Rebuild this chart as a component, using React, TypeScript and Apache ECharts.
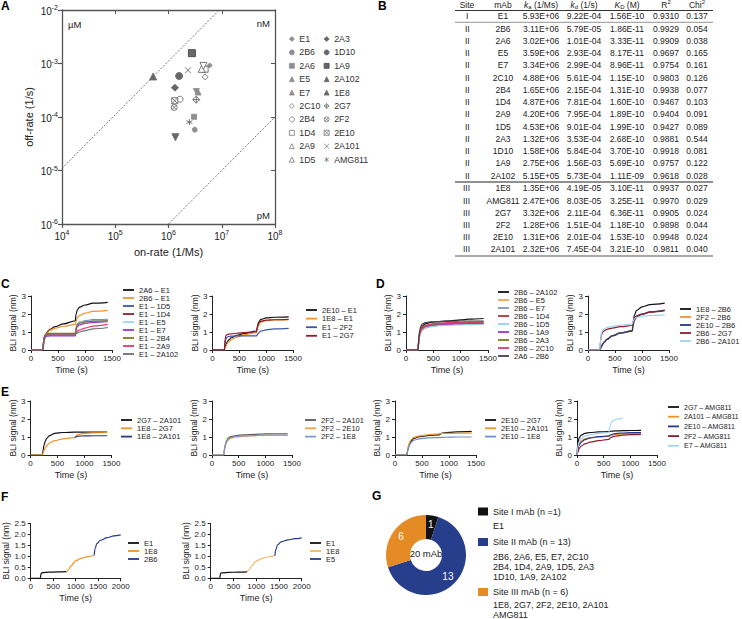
import React, { useEffect, useRef } from "react";
import * as echarts from "echarts";

// ---------------- Panel A / B data ----------------
const sites = ["I", "II", "II", "II", "II", "II", "II", "II", "II", "II", "II", "II", "II", "II", "III", "III", "III", "III", "III", "III"];
const mAbs = ["E1", "2B6", "2A6", "E5", "E7", "2C10", "2B4", "1D4", "2A9", "1D5", "2A3", "1D10", "1A9", "2A102", "1E8", "AMG811", "2G7", "2F2", "2E10", "2A101"];
const kaValues = [5.93e6, 3.11e6, 3.02e6, 3.59e6, 3.34e6, 4.88e6, 1.65e6, 4.87e6, 4.2e6, 4.53e6, 1.32e6, 1.58e6, 2.75e6, 5.15e5, 1.35e6, 2.47e6, 3.32e6, 1.28e6, 1.31e6, 2.32e6];
const kdValues = [9.22e-4, 5.79e-5, 1.01e-4, 2.93e-4, 2.99e-4, 5.61e-4, 2.15e-4, 7.81e-4, 7.95e-4, 9.01e-4, 3.53e-4, 5.84e-4, 1.56e-3, 5.73e-4, 4.19e-5, 8.03e-5, 2.11e-4, 1.51e-4, 2.01e-4, 7.45e-4];
const KDValues = [1.56e-10, 1.86e-11, 3.33e-11, 8.17e-11, 8.96e-11, 1.15e-10, 1.31e-10, 1.6e-10, 1.89e-10, 1.99e-10, 2.68e-10, 3.7e-10, 5.69e-10, 1.11e-9, 3.1e-11, 3.25e-11, 6.36e-11, 1.18e-10, 1.53e-10, 3.21e-10];
const r2Values = [0.931, 0.9929, 0.9909, 0.9697, 0.9754, 0.9803, 0.9938, 0.9467, 0.9404, 0.9427, 0.9881, 0.9918, 0.9757, 0.9618, 0.9937, 0.997, 0.9905, 0.9898, 0.9948, 0.9811];
const chi2Values = [0.137, 0.054, 0.038, 0.165, 0.161, 0.126, 0.077, 0.103, 0.091, 0.089, 0.544, 0.081, 0.122, 0.028, 0.027, 0.029, 0.024, 0.044, 0.024, 0.04];

const legendColA = ["E1", "2B6", "2A6", "E5", "E7", "2C10", "2B4", "1D4", "2A9", "1D5"];
const legendColB = ["2A3", "1D10", "1A9", "2A102", "1E8", "2G7", "2F2", "2E10", "2A101", "AMG811"];
const isoNanomolar = [[1e4, 1.1e-5], [9e6, 1e-2]];
const isoPicomolar = [[1e6, 1e-6], [1e8, 1e-4]];

// ---------------- BLI time axes ----------------
const T_BIND = [0, 220, 235, 250, 275, 300, 350, 450, 600, 820, 835, 860, 900, 1000, 1150, 1420];
const T_AMG = [0, 15, 40, 80, 150, 250, 400, 600, 615, 640, 680, 750, 850, 1000, 1200];
const T_SEQ = [0, 200, 215, 230, 260, 400, 600, 800, 810, 850, 900, 1000, 1150, 1300, 1400, 1410, 1430, 1470, 1550, 1700, 1850, 2000];

// C left
const cLeftNames = ["2A6 – E1", "2B6 – E1", "E1 – 1D5", "E1 – 1D4", "E1 – E5", "E1 – E7", "E1 – 2B4", "E1 – 2A9", "E1 – 2A102"];
const cLeftValues = [
  [0, 0, 0.35, 0.6, 0.85, 1.0, 1.15, 1.3, 1.45, 1.62, 2.0, 2.25, 2.38, 2.5, 2.6, 2.65],
  [0, 0, 0.3, 0.55, 0.8, 0.95, 1.1, 1.22, 1.32, 1.42, 1.6, 1.8, 1.92, 2.05, 2.15, 2.2],
  [0, 0, 0.5, 0.75, 0.85, 0.88, 0.9, 0.9, 0.9, 0.9, 1.25, 1.45, 1.55, 1.62, 1.67, 1.7],
  [0, 0, 0.5, 0.75, 0.85, 0.88, 0.9, 0.9, 0.9, 0.9, 1.2, 1.4, 1.5, 1.58, 1.62, 1.65],
  [0, 0, 0.45, 0.7, 0.8, 0.83, 0.84, 0.85, 0.85, 0.85, 1.2, 1.42, 1.52, 1.6, 1.64, 1.67],
  [0, 0, 0.45, 0.65, 0.75, 0.77, 0.78, 0.78, 0.78, 0.78, 1.1, 1.3, 1.4, 1.48, 1.53, 1.57],
  [0, 0, 0.55, 0.8, 0.9, 0.92, 0.93, 0.93, 0.93, 0.93, 1.2, 1.4, 1.5, 1.56, 1.6, 1.62],
  [0, 0, 0.5, 0.75, 0.85, 0.87, 0.88, 0.88, 0.88, 0.88, 0.98, 1.05, 1.12, 1.22, 1.33, 1.42],
  [0, 0, 0.45, 0.7, 0.8, 0.82, 0.83, 0.83, 0.83, 0.83, 0.9, 0.95, 1.0, 1.08, 1.17, 1.25],
];
// C right
const cRightNames = ["2E10 – E1", "1E8 – E1", "E1 – 2F2", "E1 – 2G7"];
const cRightValues = [
  [0, 0, 0.15, 0.3, 0.45, 0.55, 0.68, 0.82, 0.92, 1.05, 1.3, 1.55, 1.7, 1.78, 1.82, 1.84],
  [0, 0, 0.1, 0.2, 0.35, 0.45, 0.58, 0.72, 0.85, 0.97, 1.15, 1.38, 1.55, 1.63, 1.67, 1.68],
  [0, 0, 0.4, 0.62, 0.72, 0.75, 0.77, 0.78, 0.78, 0.78, 0.85, 0.95, 1.05, 1.12, 1.17, 1.2],
  [0, 0, 0.6, 0.8, 0.86, 0.88, 0.9, 0.93, 0.97, 1.02, 1.25, 1.5, 1.6, 1.66, 1.68, 1.7],
];
// D left
const dLeftNames = ["2B6 – 2A102", "2B6 – E5", "2B6 – E7", "2B6 – 1D4", "2B6 – 1D5", "2B6 – 1A9", "2B6 – 2A3", "2B6 – 2C10", "2A6 – 2B6"];
const dLeftValues = [
  [0, 0, 0.6, 0.95, 1.2, 1.33, 1.45, 1.53, 1.58, 1.62, 1.63, 1.64, 1.65, 1.67, 1.71, 1.75],
  [0, 0, 0.45, 0.75, 0.98, 1.1, 1.22, 1.3, 1.36, 1.4, 1.41, 1.42, 1.43, 1.45, 1.47, 1.48],
  [0, 0, 0.5, 0.8, 1.02, 1.14, 1.26, 1.33, 1.38, 1.42, 1.43, 1.43, 1.44, 1.45, 1.46, 1.47],
  [0, 0, 0.55, 0.88, 1.1, 1.22, 1.33, 1.4, 1.45, 1.48, 1.48, 1.49, 1.5, 1.5, 1.51, 1.52],
  [0, 0, 0.5, 0.8, 1.02, 1.13, 1.24, 1.31, 1.35, 1.38, 1.38, 1.39, 1.39, 1.4, 1.41, 1.42],
  [0, 0, 0.55, 0.88, 1.1, 1.2, 1.3, 1.37, 1.42, 1.45, 1.45, 1.46, 1.46, 1.47, 1.48, 1.49],
  [0, 0, 0.58, 0.9, 1.12, 1.23, 1.34, 1.41, 1.46, 1.49, 1.5, 1.5, 1.51, 1.52, 1.53, 1.54],
  [0, 0, 0.58, 0.92, 1.15, 1.26, 1.37, 1.44, 1.49, 1.52, 1.52, 1.53, 1.53, 1.54, 1.55, 1.56],
  [0, 0, 0.7, 1.1, 1.35, 1.45, 1.52, 1.56, 1.58, 1.6, 1.6, 1.6, 1.6, 1.61, 1.61, 1.61],
];
// D right
const dRightNames = ["1E8 – 2B6", "2F2 – 2B6", "2E10 – 2B6", "2B6 – 2G7", "2B6 – 2A101"];
const dRightValues = [
  [0, 0, 0.1, 0.2, 0.35, 0.45, 0.6, 0.8, 0.95, 1.08, 1.5, 1.95, 2.2, 2.4, 2.52, 2.6],
  [0, 0, 0.1, 0.2, 0.33, 0.43, 0.58, 0.78, 0.93, 1.05, 1.35, 1.65, 1.82, 1.97, 2.1, 2.2],
  [0, 0, 0.1, 0.2, 0.33, 0.43, 0.58, 0.78, 0.93, 1.05, 1.35, 1.66, 1.84, 1.99, 2.12, 2.22],
  [0, 0, 0.55, 0.85, 1.0, 1.07, 1.15, 1.22, 1.3, 1.36, 1.6, 1.8, 1.9, 2.0, 2.1, 2.18],
  [0, 0, 0.6, 0.95, 1.1, 1.17, 1.25, 1.32, 1.38, 1.45, 1.6, 1.75, 1.82, 1.88, 1.92, 1.95],
];
// E panels
const e1Names = ["2G7 – 2A101", "1E8 – 2G7", "1E8 – 2A101"];
const e1Values = [
  [0, 0, 0.3, 0.55, 0.78, 0.92, 1.08, 1.2, 1.25, 1.27, 1.27, 1.27, 1.27, 1.27, 1.27, 1.27],
  [0, 0, 0.12, 0.25, 0.4, 0.52, 0.66, 0.8, 0.9, 0.97, 1.03, 1.1, 1.15, 1.2, 1.23, 1.25],
  [null, null, null, null, null, null, null, null, null, 0.97, 1.0, 1.03, 1.05, 1.06, 1.07, 1.07],
];
const e2Names = ["2F2 – 2A101", "2F2 – 2E10", "2F2 – 1E8"];
const e2Values = [
  [0, 0, 0.35, 0.6, 0.8, 0.92, 1.02, 1.08, 1.12, 1.15, 1.15, 1.16, 1.16, 1.17, 1.18, 1.18],
  [0, 0, 0.25, 0.5, 0.7, 0.82, 0.93, 1.0, 1.04, 1.07, 1.08, 1.08, 1.09, 1.1, 1.1, 1.1],
  [0, 0, 0.3, 0.55, 0.75, 0.87, 0.97, 1.03, 1.06, 1.08, 1.09, 1.09, 1.1, 1.1, 1.1, 1.1],
];
const e3Names = ["2E10 – 2G7", "2E10 – 2A101", "2E10 – 1E8"];
const e3Values = [
  [0, 0, 0.25, 0.45, 0.65, 0.78, 0.92, 1.02, 1.08, 1.12, 1.15, 1.2, 1.23, 1.26, 1.29, 1.31],
  [0, 0, 0.3, 0.55, 0.75, 0.86, 0.98, 1.06, 1.12, 1.17, 1.19, 1.2, 1.2, 1.2, 1.21, 1.22],
  [0, 0, 0.2, 0.4, 0.58, 0.7, 0.82, 0.9, 0.95, 0.97, 0.97, 0.98, 0.98, 0.99, 1.0, 1.0],
];
const e4Names = ["2G7 – AMG811", "2A101 – AMG811", "2E10 – AMG811", "2F2 – AMG811", "E7 – AMG811"];
const e4Values = [
  [0, 0.6, 0.95, 1.1, 1.2, 1.25, 1.28, 1.3, 1.31, 1.32, 1.33, 1.34, 1.35, 1.36, 1.37],
  [0, 0.4, 0.65, 0.8, 0.9, 0.97, 1.0, 1.03, 1.06, 1.09, 1.12, 1.15, 1.17, 1.19, 1.2],
  [0, 0.3, 0.55, 0.72, 0.85, 0.95, 1.02, 1.06, 1.1, 1.14, 1.17, 1.2, 1.22, 1.24, 1.25],
  [0, 0.15, 0.35, 0.5, 0.62, 0.72, 0.8, 0.87, 0.93, 0.98, 1.02, 1.06, 1.1, 1.13, 1.15],
  [0, 0.45, 0.75, 0.92, 1.05, 1.13, 1.2, 1.25, 1.55, 1.8, 1.92, 2.0, 2.05, null, null],
];
// F panels
const f1Names = ["E1", "1E8", "2B6"];
const f1Values = [
  [0, 0, 0.02, 0.22, 0.26, 0.28, 0.29, 0.3, null, null, null, null, null, null, null, null, null, null, null, null, null, null],
  [null, null, null, null, null, null, null, 0.3, 0.31, 0.42, 0.58, 0.8, 0.93, 1.0, 1.03, 1.04, null, null, null, null, null, null],
  [null, null, null, null, null, null, null, null, null, null, null, null, null, null, null, 1.04, 1.35, 1.58, 1.73, 1.85, 1.93, 1.97],
];
const f2Names = ["E1", "1E8", "E5"];
const f2Values = [
  [0, 0, 0.22, 0.24, 0.25, 0.27, 0.28, 0.29, null, null, null, null, null, null, null, null, null, null, null, null, null, null],
  [null, null, null, null, null, null, null, 0.29, 0.3, 0.4, 0.56, 0.78, 0.92, 0.99, 1.02, 1.02, null, null, null, null, null, null],
  [null, null, null, null, null, null, null, null, null, null, null, null, null, null, null, 1.02, 1.3, 1.52, 1.66, 1.75, 1.8, 1.84],
];

// ---------------- Panel G data ----------------
const siteLabels = ["Site I mAb (n =1)", "Site II mAb (n = 13)", "Site III mAb (n = 6)"];
const siteCounts = [1, 13, 6];
const siteMemberLines = [["E1"], ["2B6, 2A6, E5, E7, 2C10", "2B4, 1D4, 2A9, 1D5, 2A3", "1D10, 1A9, 2A102"], ["1E8, 2G7, 2F2, 2E10, 2A101", "AMG811"]];
const donutCenterText = "20 mAb";

// ---------------- styles ----------------
const FONT = "'Liberation Sans', Arial, Helvetica, sans-serif";
const TXT = "#222";
const G1 = "#8e8e8e";
const G2 = "#686868";
const P_DIAMOND_BAR = "path://M5,0L10,5L5,10L0,5Z M0,5L10,5";
const P_DIAMOND_PLUS = "path://M5,0L10,5L5,10L0,5Z M5,0L5,10 M0,5L10,5";
const P_CIRCLE_X = "path://M10,5A5,5,0,1,1,0,5A5,5,0,1,1,10,5Z M1.5,1.5L8.5,8.5 M8.5,1.5L1.5,8.5";
const P_SQUARE_X = "path://M0,0L10,0L10,10L0,10Z M0,0L10,10 M10,0L0,10";
const P_X = "path://M0,0L10,10 M10,0L0,10";
const P_AST = "path://M5,0L5,10 M0.7,2.5L9.3,7.5 M9.3,2.5L0.7,7.5";

const SYM: Record<string, any> = {
  E1: { s: "diamond", z: 5, f: G1, b: G1 },
  "2B6": { s: "circle", z: 5, f: G1, b: G1 },
  "2A6": { s: "rect", z: 5, f: G1, b: G1 },
  E5: { s: "triangle", z: 6, f: G1, b: G1 },
  E7: { s: "triangle", z: 6, f: G1, b: G1, r: 180 },
  "2C10": { s: "diamond", z: 6, f: "#fff", b: G2 },
  "2B4": { s: "circle", z: 6, f: "#fff", b: G2 },
  "1D4": { s: "rect", z: 6, f: "#fff", b: G2 },
  "2A9": { s: "triangle", z: 7, f: "#fff", b: G2 },
  "1D5": { s: "triangle", z: 7, f: "#fff", b: G2, r: 180 },
  "2A3": { s: P_DIAMOND_BAR, z: 7, f: G2, b: G2 },
  "1D10": { s: "circle", z: 7, f: G2, b: G2 },
  "1A9": { s: "rect", z: 7, f: G2, b: "#444" },
  "2A102": { s: "triangle", z: 7, f: G2, b: G2 },
  "1E8": { s: "triangle", z: 7, f: G2, b: G2, r: 180 },
  "2G7": { s: P_DIAMOND_PLUS, z: 7, f: "#fff", b: G2 },
  "2F2": { s: P_CIRCLE_X, z: 6, f: "#fff", b: G2 },
  "2E10": { s: P_SQUARE_X, z: 6, f: "#fff", b: G2 },
  "2A101": { s: P_X, z: 6, f: "#fff", b: G2 },
  AMG811: { s: P_AST, z: 6, f: "#fff", b: G2 },
};

const BLACK = "#111";
const ORANGE = "#f0932b";
const BLUE = "#3b57a6";
const NAVY = "#24398a";
const DRED = "#8e1b2e";
const LBLUE = "#9fd3f3";
const PURPLE = "#9b35d6";
const OLIVE = "#7d7d1f";
const PINK = "#e2386c";
const GRAY = "#6e6e6e";

const panels = [
  { id: "cL", names: cLeftNames, values: cLeftValues, t: T_BIND, colors: [BLACK, ORANGE, BLUE, DRED, LBLUE, PURPLE, OLIVE, PINK, GRAY], grid: [31, 296, 81, 54], xMax: 1500, yMax: 3, yInt: 1, lg: [123, 286, 0, 7.5] },
  { id: "cR", names: cRightNames, values: cRightValues, t: T_BIND, colors: [BLACK, ORANGE, BLUE, DRED], grid: [212.5, 296, 80.5, 54], xMax: 1500, yMax: 3, yInt: 1, lg: [306, 306, 0.6, 7.5] },
  { id: "dL", names: dLeftNames, values: dLeftValues, t: T_BIND, colors: [BLACK, "#f4a24a", "#8294bf", "#b0303c", "#96cdf0", PURPLE, OLIVE, PINK, "#444"], grid: [406, 296, 82, 54], xMax: 1500, yMax: 3, yInt: 1, lg: [498, 288, 0, 7.5] },
  { id: "dR", names: dRightNames, values: dRightValues, t: T_BIND, colors: [BLACK, ORANGE, NAVY, DRED, LBLUE], grid: [588, 296, 81, 54], xMax: 1500, yMax: 3, yInt: 1, lg: [680, 305, 0, 7.5] },
  { id: "e1", names: e1Names, values: e1Values, t: T_BIND, colors: [BLACK, ORANGE, NAVY], grid: [30.5, 401, 81, 54], xMax: 1500, yMax: 3, yInt: 1, lg: [121, 416, 0.3, 7.5] },
  { id: "e2", names: e2Names, values: e2Values, t: T_BIND, colors: ["#5a5a5a", "#f4a24a", "#7f9ad2"], grid: [212, 401, 80, 54], xMax: 1500, yMax: 3, yInt: 1, lg: [305, 416, 0.3, 7.5] },
  { id: "e3", names: e3Names, values: e3Values, t: T_BIND, colors: [BLACK, ORANGE, "#6f8fd0"], grid: [395, 401, 81, 54], xMax: 1500, yMax: 3, yInt: 1, lg: [485, 416, 0.3, 7.5] },
  { id: "e4", names: e4Names, values: e4Values, t: T_AMG, colors: [BLACK, ORANGE, NAVY, DRED, LBLUE], grid: [577, 401, 80, 54], xMax: 1500, yMax: 3, yInt: 1, lg: [668, 403, 1.7, 7] },
  { id: "f1", names: f1Names, values: f1Values, t: T_SEQ, colors: [BLACK, ORANGE, NAVY], grid: [30.7, 523.3, 90, 55], xMax: 2000, yMax: 2.5, yInt: 0.5, lg: [128, 539, 0, 7.5] },
  { id: "f2", names: f2Names, values: f2Values, t: T_SEQ, colors: [BLACK, "#f5b565", NAVY], grid: [210.7, 523.3, 91, 55], xMax: 2000, yMax: 2.5, yInt: 0.5, lg: [310, 539, 0, 7.5] },
];

const fmtSci = (v: number) => {
  const [m, e] = v.toExponential(2).split("e");
  const sign = e[0] === "-" ? "-" : "+";
  const d = e.replace(/[+-]/, "").padStart(2, "0");
  return `${m}E${sign}${d}`;
};

function buildOption() {
  const grid: any[] = [{ left: 62, top: 10, width: 213, height: 214 }];
  const logLabelRich = {
    b: { fontSize: 10, lineHeight: 12, verticalAlign: "bottom", color: TXT, fontFamily: FONT },
    s: { fontSize: 7, lineHeight: 8, verticalAlign: "top", color: TXT, fontFamily: FONT },
  };
  const logFmt = (v: number) => `{b|10}{s|${Math.round(Math.log10(v))}}`;
  const aLine = { lineStyle: { color: "#555", width: 1.3 } };
  const xAxis: any[] = [
    {
      type: "log", logBase: 10, gridIndex: 0, min: 1e4, max: 1e8, position: "bottom",
      axisLine: aLine, axisTick: { length: 4, lineStyle: { color: "#555", width: 1.2 } },
      axisLabel: { formatter: logFmt, rich: logLabelRich, margin: 5 },
      splitLine: { show: false }, minorTick: { show: false },
      name: "on-rate (1/Ms)", nameLocation: "middle", nameGap: 22,
      nameTextStyle: { fontSize: 11, color: TXT, fontFamily: FONT },
    },
    {
      type: "log", logBase: 10, gridIndex: 0, min: 1e4, max: 1e8, position: "top",
      axisLine: aLine, axisTick: { inside: true, length: 4, lineStyle: { color: "#555", width: 1 } },
      axisLabel: { show: false }, splitLine: { show: false },
    },
  ];
  const yAxis: any[] = [
    {
      type: "log", logBase: 10, gridIndex: 0, min: 1e-6, max: 1e-2, position: "left",
      axisLine: aLine, axisTick: { length: 4, lineStyle: { color: "#555", width: 1.2 } },
      axisLabel: { formatter: logFmt, rich: logLabelRich, margin: 4 },
      splitLine: { show: false },
      name: "off-rate (1/s)", nameLocation: "middle", nameGap: 28,
      nameTextStyle: { fontSize: 11, color: TXT, fontFamily: FONT },
    },
    {
      type: "log", logBase: 10, gridIndex: 0, min: 1e-6, max: 1e-2, position: "right",
      axisLine: aLine, axisTick: { inside: true, length: 4, lineStyle: { color: "#555", width: 1 } },
      axisLabel: { show: false }, splitLine: { show: false },
    },
  ];
  const series: any[] = [];
  const legend: any[] = [];

  // iso-affinity lines
  [isoNanomolar, isoPicomolar].forEach((d, i) => {
    series.push({
      type: "line", name: i === 0 ? "KD 1 nM" : "KD 1 pM", xAxisIndex: 0, yAxisIndex: 0, data: d,
      symbol: "none", silent: true, lineStyle: { color: "#555", width: 0.8, type: [2, 1.5] }, z: 1,
    });
  });
  // scatter points from the table
  mAbs.forEach((m, i) => {
    const s = SYM[m];
    series.push({
      type: "scatter", name: m, xAxisIndex: 0, yAxisIndex: 0,
      data: [[kaValues[i], kdValues[i]]],
      symbol: s.s, symbolSize: s.z, symbolRotate: s.r || 0,
      itemStyle: { color: s.f, borderColor: s.b, borderWidth: 0.9, opacity: 1 }, z: 5,
    });
  });
  legend.push({
    orient: "vertical", left: 289, top: 34, height: 133, padding: 0,
    itemWidth: 5, itemHeight: 5, itemGap: 3.4,
    itemStyle: { borderWidth: 0.7 },
    textStyle: { fontSize: 8.8, lineHeight: 10, color: "#333", fontFamily: FONT },
    data: legendColA.concat(legendColB), selectedMode: false,
  });

  panels.forEach((p, pi) => {
    const [l, t, w, h] = p.grid;
    grid.push({ left: l, top: t, width: w, height: h });
    const ax = { lineStyle: { color: "#222", width: 1 } };
    xAxis.push({
      type: "value", gridIndex: pi + 1, min: 0, max: p.xMax, interval: 500,
      axisLine: { ...ax, onZero: false }, axisTick: { length: 3, lineStyle: { color: "#222", width: 1 } },
      axisLabel: { fontSize: 8, margin: 4, color: TXT, fontFamily: FONT, formatter: (v: number) => String(v) },
      splitLine: { show: false },
      name: "Time (s)", nameLocation: "middle", nameGap: 15,
      nameTextStyle: { fontSize: 9, color: TXT, fontFamily: FONT },
    });
    yAxis.push({
      type: "value", gridIndex: pi + 1, min: 0, max: p.yMax, interval: p.yInt, offset: 2,
      axisLine: ax, axisTick: { length: 3, lineStyle: { color: "#222", width: 1 } },
      axisLabel: {
        fontSize: 8, margin: 3, color: TXT, fontFamily: FONT,
        formatter: (v: number) => (p.yInt < 1 ? v.toFixed(1) : String(v)),
      },
      splitLine: { show: false },
      name: "BLI signal (nm)", nameLocation: "middle", nameGap: p.yInt < 1 ? 14 : 9,
      nameTextStyle: { fontSize: 8.5, color: TXT, fontFamily: FONT },
    });
    p.names.forEach((nm, si) => {
      series.push({
        type: "line", name: `${p.id}|${nm}`, xAxisIndex: pi + 2, yAxisIndex: pi + 2,
        data: p.t.map((x, j) => [x, p.values[si][j]]),
        symbol: "none", showSymbol: false, smooth: 0.35, smoothMonotone: "x",
        lineStyle: { color: p.colors[si], width: 1.2 }, itemStyle: { color: p.colors[si] },
        z: 3,
      });
    });
    legend.push({
      orient: "vertical", left: p.lg[0], top: p.lg[1], padding: 0,
      icon: "rect", itemWidth: 11, itemHeight: 1.8, itemGap: p.lg[2],
      textStyle: { fontSize: p.lg[3], lineHeight: 8, color: TXT, fontFamily: FONT },
      formatter: (name: string) => name.split("|")[1],
      data: p.names.map((n) => `${p.id}|${n}`), selectedMode: false,
    });
  });

  // Panel G donut
  const siteColors = ["#111", "#263e8c", "#e58b26"];
  series.push({
    type: "pie", name: "sites", center: [426, 555], radius: [16, 40], startAngle: 90, clockwise: true,
    silent: true, avoidLabelOverlap: false,
    label: { show: true, position: "inside", formatter: "{c}", color: "#fff", fontSize: 10, fontFamily: FONT },
    labelLine: { show: false },
    data: siteLabels.map((n, i) => ({ name: n, value: siteCounts[i], itemStyle: { color: siteColors[i] } })),
  });
  const siteLegendTops = [507, 537.5, 587.5];
  siteLabels.forEach((n, i) => {
    legend.push({
      left: 478, top: siteLegendTops[i], padding: 0, icon: "rect", itemWidth: 10, itemHeight: 8,
      textStyle: { fontSize: 9, color: TXT, fontFamily: FONT }, data: [n], selectedMode: false,
    });
  });

  // ---------------- graphic (labels, table) ----------------
  const graphic: any[] = [];
  const txt = (x: number, y: number, text: string, o: any = {}) =>
    graphic.push({
      type: "text", x, y, silent: true,
      style: { text, fontSize: 9, fill: TXT, fontFamily: FONT, align: "center", verticalAlign: "middle", ...o },
    });
  const label = (x: number, y: number, s: string) =>
    txt(x, y, s, { fontSize: 12, fontWeight: "bold", align: "left", verticalAlign: "top", fill: "#000" });
  label(1, 0, "A");
  label(378, 0, "B");
  label(1, 278, "C");
  label(376, 278, "D");
  label(1, 386, "E");
  label(1, 491, "F");
  label(372, 490, "G");

  txt(68, 24, "µM", { align: "left", fontSize: 9.5 });
  txt(270, 23, "nM", { align: "right", fontSize: 9.5 });
  txt(270, 215, "pM", { align: "right", fontSize: 9.5 });

  // table
  const cols = [467, 503, 541, 584, 627, 666, 697];
  const rich = {
    n: { fontSize: 8.5, lineHeight: 11, verticalAlign: "middle", fontFamily: FONT, color: TXT },
    i: { fontSize: 8.5, lineHeight: 11, verticalAlign: "middle", fontStyle: "italic", fontFamily: FONT, color: TXT },
    sub: { fontSize: 6, lineHeight: 6, verticalAlign: "bottom", fontFamily: FONT, color: TXT },
    sup: { fontSize: 6, lineHeight: 6, verticalAlign: "top", fontFamily: FONT, color: TXT },
  };
  const headers = ["{n|Site}", "{n|mAb}", "{i|k}{sub|a}{n| (1/Ms)}", "{i|k}{sub|d}{n| (1/s)}", "{i|K}{sub|D}{n| (M)}", "{n|R}{sup|2}", "{n|Chi}{sup|2}"];
  headers.forEach((h, c) => txt(cols[c], 4.5, h, { rich }));
  const rowY = (i: number) => (i === 0 ? 16 : i <= 13 ? 28.5 + (i - 1) * 12.25 : 188.3 + (i - 14) * 12.2);
  mAbs.forEach((m, i) => {
    const y = Math.round(rowY(i));
    const cells = [sites[i], m, fmtSci(kaValues[i]), fmtSci(kdValues[i]), fmtSci(KDValues[i]), r2Values[i].toFixed(4), chi2Values[i].toFixed(3)];
    cells.forEach((c, ci) => {
      if (ci === 0) {
        // left-aligned on a whole pixel so thin strokes stay crisp, visually centred
        txt(Math.round(cols[0] - c.length * 1.2), y, c, { fontSize: 8.5, align: "left" });
      } else {
        txt(cols[ci], y, c, { fontSize: 8.5 });
      }
    });
  });
  const hline = (y: number, w: number, color: string) =>
    graphic.push({ type: "line", silent: true, shape: { x1: 455, y1: y, x2: 713, y2: y }, style: { stroke: color, lineWidth: w } });
  hline(10.5, 1, "#333");
  hline(22.3, 0.8, "#777");
  hline(182, 1.2, "#222");
  hline(256, 1.2, "#555");

  // donut center + member lists
  txt(426, 553.5, donutCenterText, { fontSize: 9.5 });
  const memberTops = [[526], [556.7, 567, 577.3], [605, 614.5]];
  siteMemberLines.forEach((lines, gi) =>
    lines.forEach((ln, li) => txt(493, memberTops[gi][li], ln, { align: "left", fontSize: 9 }))
  );

  return {
    animation: false,
    backgroundColor: "#fff",
    textStyle: { fontFamily: FONT },
    grid, xAxis, yAxis, series, legend, graphic,
  };
}

export default function App() {
  const ref = useRef<HTMLDivElement>(null);
  useEffect(() => {
    if (!ref.current) return;
    const chart = echarts.init(ref.current, undefined, { renderer: "svg" });
    chart.setOption(buildOption() as any);
    return () => chart.dispose();
  }, []);
  return (
    <div
      ref={ref}
      style={{ position: "fixed", left: 0, top: 0, width: 742, height: 619, background: "#fff" }}
    />
  );
}
